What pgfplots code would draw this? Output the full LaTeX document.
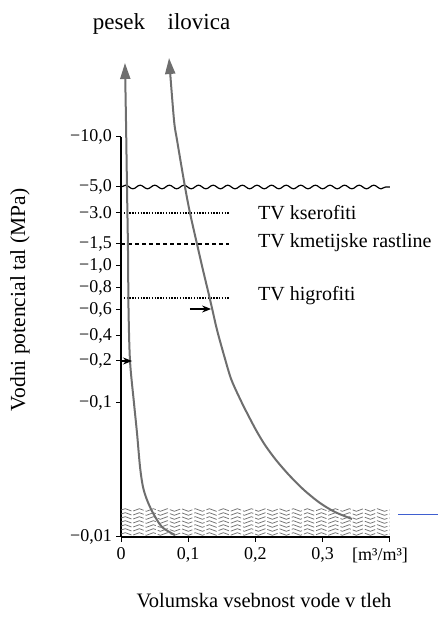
\documentclass[border=0pt]{standalone}
\usepackage{pgfplots}
\pgfplotsset{compat=1.18}
\usepackage{fontspec}
\setmainfont{Liberation Serif}
\usetikzlibrary{decorations.pathmorphing, arrows.meta}

\definecolor{curvegray}{HTML}{6E6E6E}
\definecolor{hatchgray}{HTML}{737373}
\definecolor{markblue}{HTML}{3F5FD0}

% Vertical coordinate: position on the (non-uniform) water-potential scale,
% 0 = -0,01 MPa at the bottom, 400 = -10,0 MPa at the top.
\begin{document}
\begin{tikzpicture}
\useasboundingbox (0,0) rectangle (440pt,622pt);
\begin{axis}[
  at={(121pt,85pt)}, anchor=south west,
  scale only axis, width=269pt, height=400pt,
  xmin=0, xmax=0.4, ymin=0, ymax=400,
  axis lines=left,
  axis line style={-, line width=1.1pt, black},
  clip=false,
  tick align=outside,
  major tick length=5pt,
  tick style={black, line width=1pt},
  xtick={0,0.1,0.2,0.3,0.4},
  xticklabels={0,{0,1},{0,2},{0,3},{}},
  ytick={0,134,176,201,227,249,271,293,324,350,400},
  yticklabels={{−0,01},{−0,1},{−0,2},{−0,4},{−0,6},{−0,8},{−1,0},{−1,5},{−3.0},{−5,0},{−10,0}},
  ticklabel style={font=\fontsize{18}{20}\selectfont},
  yticklabel style={anchor=east, inner sep=0pt, xshift=-4pt},
  xticklabel style={anchor=north, inner sep=0pt, yshift=-5pt},
]
% saturated soil (water) at the bottom
\pgfplotsinvokeforeach{3,7,11,15,19,23,27}{
  \draw[hatchgray, line width=0.75pt, dash pattern=on 11pt off 2pt,
        decorate, decoration={snake, amplitude=1.3pt, segment length=14pt}]
    (axis cs:0,#1) -- (axis cs:0.4,#1);
}

% thresholds for plant groups
\addplot[black, line width=1.2pt, dash pattern=on 1.4pt off 1.4pt] coordinates {(0,324) (0.16,324)};
\addplot[black, line width=1.2pt, dash pattern=on 4pt off 3pt] coordinates {(0,293) (0.16,293)};
\addplot[black, line width=1.2pt, dash pattern=on 1.4pt off 1.4pt] coordinates {(0,239) (0.16,239)};
\draw[black, line width=1.2pt, decorate,
      decoration={snake, amplitude=1.8pt, segment length=14.6pt}]
  (axis cs:0,350) -- (axis cs:0.4,350);

% retention curves
\addplot[curvegray, line width=2pt, smooth, tension=0.5,
         -{Triangle[width=10pt,length=16pt]}] coordinates {
  (0.0803,2) (0.0610,10) (0.0476,24) (0.0387,37) (0.0327,50) (0.0283,70)
  (0.0238,104) (0.0193,134) (0.0134,176) (0.0112,227) (0.0104,287)
  (0.0089,350) (0.0074,417) (0.0059,474)
};
\addplot[curvegray, line width=2pt, smooth, tension=0.5,
         -{Triangle[width=10pt,length=16pt]}] coordinates {
  (0.3435,18) (0.3182,25) (0.2959,34) (0.2721,47) (0.2498,62) (0.2305,77)
  (0.2141,92) (0.2007,107) (0.1874,124) (0.1799,134) (0.1643,157)
  (0.1539,180) (0.1428,207) (0.1353,229) (0.1301,244) (0.1219,267)
  (0.1130,293) (0.1026,324) (0.0952,350) (0.0833,397) (0.0788,417)
  (0.0714,479)
};

% field capacity markers
\draw[black, line width=1.2pt, -{Stealth[length=9pt,width=7pt]}]
  (axis cs:0.1026,228) -- (axis cs:0.1340,228);
\draw[black, line width=1.2pt, -{Stealth[length=9pt,width=7pt]}]
  (axis cs:0,176) -- (axis cs:0.0164,176);
\end{axis}

\node[anchor=base, font=\fontsize{23}{26}\selectfont] at (119pt,592pt) {pesek};
\node[anchor=base, font=\fontsize{23}{26}\selectfont] at (199pt,592pt) {ilovica};

\node[anchor=west, inner sep=0pt, font=\fontsize{20}{22}\selectfont] at (258pt,409pt) {TV kserofiti};
\node[anchor=west, inner sep=0pt, font=\fontsize{20}{22}\selectfont] at (258pt,379pt) {TV kmetijske rastline};
\node[anchor=west, inner sep=0pt, font=\fontsize{20}{22}\selectfont] at (258pt,326pt) {TV higrofiti};

\node[inner sep=0pt, font=\fontsize{18}{20}\selectfont] at (380pt,67pt) {[m³/m³]};
\draw[markblue, line width=0.8pt] (398pt,108pt) -- (438pt,108pt);

\node[rotate=90, inner sep=0pt, font=\fontsize{21.5}{24}\selectfont] at (20pt,322pt) {Vodni potencial tal (MPa)};
\node[anchor=base, inner sep=0pt, font=\fontsize{20.5}{23}\selectfont] at (264pt,14pt) {Volumska vsebnost vode v tleh};
\end{tikzpicture}
\end{document}
